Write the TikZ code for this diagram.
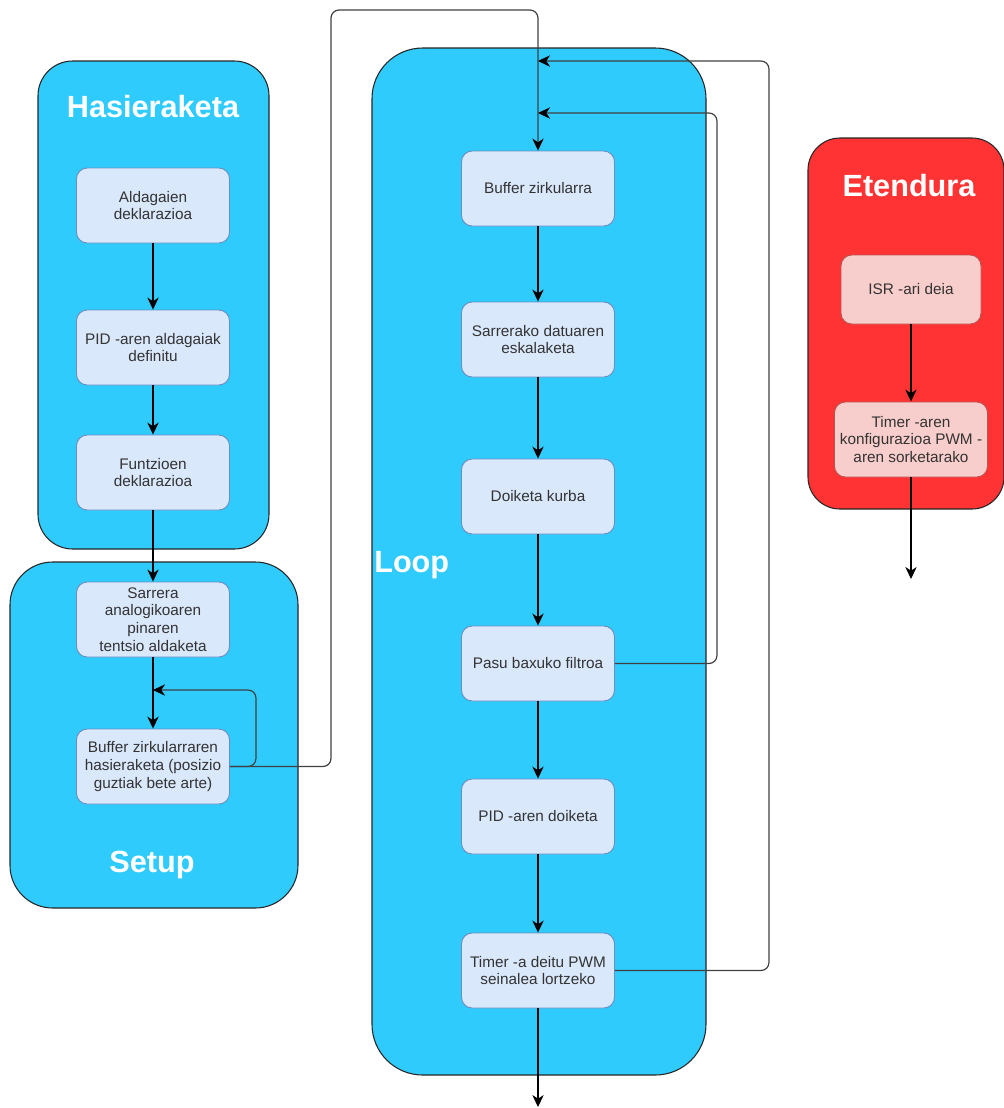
\documentclass[tikz,border=0pt]{standalone}
\usepackage{fontspec}
\setmainfont{Liberation Sans}
\usetikzlibrary{arrows.meta,positioning}
\definecolor{fcZone}{HTML}{2FCBFD}
\definecolor{fcInt}{HTML}{FF3333}
\definecolor{fcStep}{HTML}{DAE8FC}
\definecolor{fcStepLine}{HTML}{6C8EBF}
\definecolor{fcIsr}{HTML}{F8CECC}
\definecolor{fcIsrLine}{HTML}{B85450}
\tikzset{
  zone/.style={draw=black!85, line width=0.8pt, fill=fcZone, inner sep=0pt},
  zonetitle/.style={font=\fontsize{23}{27}\selectfont\bfseries, text=white, inner sep=0pt},
  stepbox/.style={
    draw=fcStepLine, fill=fcStep, line width=0.7pt, rounded corners=8pt,
    minimum width=114.75pt, minimum height=56.25pt, align=center,
    font=\fontsize{11.5}{13.2}\selectfont, text=black!80, inner sep=1pt
  },
  isrbox/.style={stepbox, fill=fcIsr, draw=fcIsrLine},
  flow/.style={-{Stealth[length=9pt, width=8.5pt, inset=2.8pt, black]}, line width=0.9pt, black},
  back/.style={flow, rounded corners=6pt, draw=black!75}
}
\begin{document}
\begin{tikzpicture}[x=0.75pt, y=-0.75pt]
  \useasboundingbox (0,0) rectangle (1004,1108);
  % containers
  \node[zone, rounded corners=26pt, minimum width=173.25pt, minimum height=366pt] (hasi) at (153.5,305) {};
  \node[zone, rounded corners=32pt, minimum width=216pt, minimum height=259.5pt] (setup) at (154,735) {};
  \node[zone, rounded corners=38pt, minimum width=250.5pt, minimum height=770.25pt] (loop) at (539,561.5) {};
  \node[zone, fill=fcInt, rounded corners=24pt, minimum width=147pt, minimum height=278.25pt] (eten) at (906,323.5) {};
  \node[zonetitle] (hasiT) at (153,107) {Hasieraketa};
  \node[zonetitle] (setupT) at (152,865) {Setup};
  \node[zonetitle, anchor=west] (loopT) at (374,565) {Loop};
  \node[zonetitle] (etenT) at (909,186) {Etendura};

  % Hasieraketa / Setup
  \node[stepbox] (ald) at (153,205.5) {Aldagaien\\deklarazioa};
  \node[stepbox] (pidv) at (153,347.5) {PID -aren aldagaiak\\definitu};
  \node[stepbox] (funt) at (153,472.5) {Funtzioen\\deklarazioa};
  \node[stepbox] (sarr) at (153,619.5) {Sarrera\\analogikoaren\\pinaren\\tentsio aldaketa};
  \node[stepbox] (bufi) at (153,766.5) {Buffer zirkularraren\\hasieraketa (posizio\\guztiak bete arte)};

  % Loop
  \node[stepbox] (bufz) at (538,188.5) {Buffer zirkularra};
  \node[stepbox] (eska) at (538,339.5) {Sarrerako datuaren\\eskalaketa};
  \node[stepbox] (kurba) at (538,496.5) {Doiketa kurba};
  \node[stepbox] (pasu) at (538,663.5) {Pasu baxuko filtroa};
  \node[stepbox] (pidd) at (538,816.5) {PID -aren doiketa};
  \node[stepbox] (timer) at (538,970.5) {Timer -a deitu PWM\\seinalea lortzeko};

  % Etendura
  \node[isrbox, minimum width=105pt, minimum height=51.75pt] (isr) at (911,289.5) {ISR -ari deia};
  \node[isrbox] (tconf) at (911,439.5) {Timer -aren\\konfigurazioa PWM -\\aren sorketarako};

  \coordinate (bufin) at (153,690);
  \coordinate (inA) at (538,113);
  \coordinate (inB) at (538,61);
  \coordinate (loopend) at (538,1107);
  \coordinate (isrend) at (911,579);

  \draw[flow] (ald) -- (pidv);
  \draw[flow] (pidv) -- (funt);
  \draw[flow] (funt) -- (sarr);
  \draw[flow] (sarr) -- (bufi);
  \draw[back] (bufi.east) -- ++(26,0) |- (bufin);
  \draw[back] (bufi.east) -| (331,10) -| (bufz.north);

  \draw[flow] (bufz) -- (eska);
  \draw[flow] (eska) -- (kurba);
  \draw[flow] (kurba) -- (pasu);
  \draw[flow] (pasu) -- (pidd);
  \draw[flow] (pidd) -- (timer);
  \draw[back] (pasu.east) -- ++(102,0) |- (inA);
  \draw[back] (timer.east) -- ++(154,0) |- (inB);
  \draw[flow] (timer) -- (loopend);

  \draw[flow] (isr) -- (tconf);
  \draw[flow] (tconf) -- (isrend);
\end{tikzpicture}
\end{document}
